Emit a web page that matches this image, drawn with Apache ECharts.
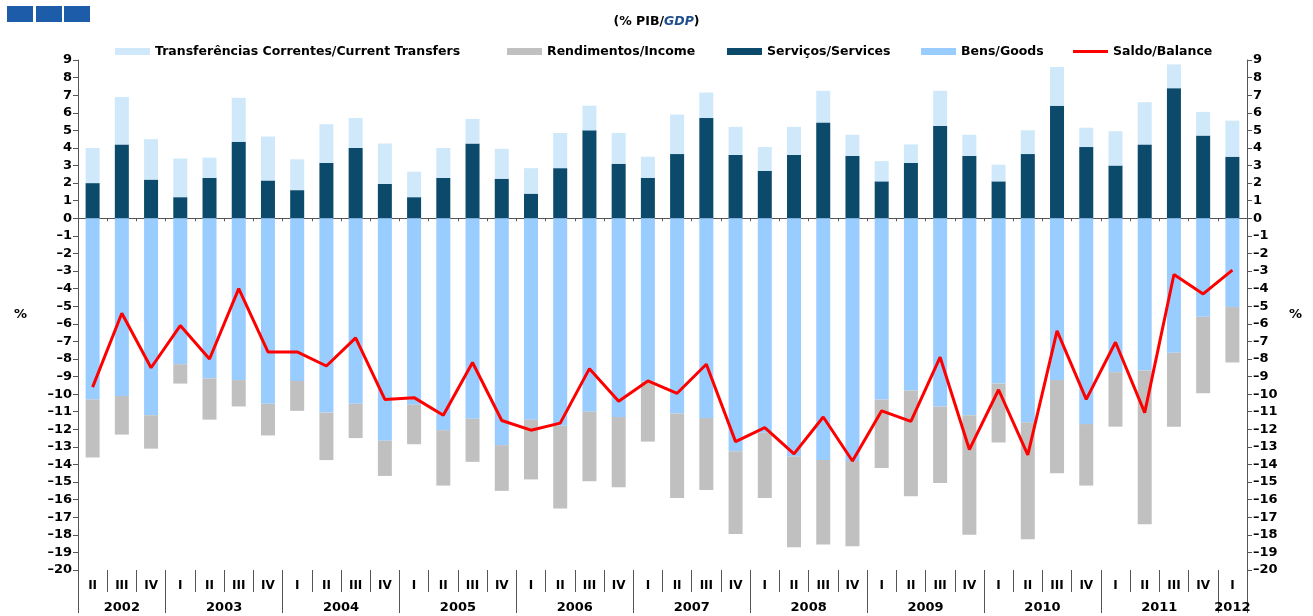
<!DOCTYPE html>
<html>
<head>
<meta charset="utf-8">
<script src="https://cdn.jsdelivr.net/npm/echarts@6/dist/echarts.min.js"></script>
<style>
  html, body { margin: 0; padding: 0; background: #fff; }
  #chart { width: 1313px; height: 616px; }
</style>
</head>
<body>
<div id="chart"></div>
<script>
// trimestres 2002 II .. 2012 I
const quarters = [
  'II', 'III', 'IV',
  'I', 'II', 'III', 'IV',
  'I', 'II', 'III', 'IV',
  'I', 'II', 'III', 'IV',
  'I', 'II', 'III', 'IV',
  'I', 'II', 'III', 'IV',
  'I', 'II', 'III', 'IV',
  'I', 'II', 'III', 'IV',
  'I', 'II', 'III', 'IV',
  'I', 'II', 'III', 'IV',
  'I'
]
const years = ['2002', '2003', '2004', '2005', '2006', '2007', '2008', '2009', '2010', '2011', '2012']
const quartersPerYear = [3, 4, 4, 4, 4, 4, 4, 4, 4, 4, 1]

const services = [2.0, 4.2, 2.2, 1.2, 2.3, 4.35, 2.15, 1.6, 3.15, 4.0, 1.95, 1.2, 2.3, 4.25, 2.25, 1.4, 2.85, 5.0, 3.1, 2.3,
  3.65, 5.7, 3.6, 2.7, 3.6, 5.45, 3.55, 2.1, 3.15, 5.25, 3.55, 2.1, 3.65, 6.4, 4.05, 3.0, 4.2, 7.4, 4.7, 3.5]
const transfers = [2.0, 2.7, 2.3, 2.2, 1.15, 2.5, 2.5, 1.75, 2.2, 1.7, 2.3, 1.45, 1.7, 1.4, 1.7, 1.45, 2.0, 1.4, 1.75, 1.2,
  2.25, 1.45, 1.6, 1.35, 1.6, 1.8, 1.2, 1.15, 1.05, 2.0, 1.2, 0.95, 1.35, 2.2, 1.1, 1.95, 2.4, 1.35, 1.35, 2.05]
const goods = [-10.3, -10.1, -11.2, -8.3, -9.1, -9.2, -10.55, -9.25, -11.05, -10.55, -12.65, -10.6, -12.05, -11.4, -12.9, -11.45, -11.8, -11.0, -11.3, -9.3,
  -11.1, -11.35, -13.25, -12.2, -13.55, -13.75, -13.8, -10.3, -9.8, -10.7, -11.2, -9.4, -11.6, -9.2, -11.7, -8.75, -8.65, -7.65, -5.6, -5.05]
const income = [-3.3, -2.2, -1.9, -1.1, -2.35, -1.5, -1.8, -1.7, -2.7, -1.95, -2.0, -2.25, -3.15, -2.45, -2.6, -3.4, -4.7, -3.95, -4.0, -3.4,
  -4.8, -4.1, -4.7, -3.7, -5.15, -4.8, -4.85, -3.9, -6.0, -4.35, -6.8, -3.35, -6.65, -5.3, -3.5, -3.1, -8.75, -4.2, -4.35, -3.15]
const balance = [-9.6, -5.4, -8.5, -6.1, -8.0, -4.0, -7.6, -7.6, -8.4, -6.8, -10.3, -10.2, -11.2, -8.2, -11.5, -12.05, -11.65, -8.55, -10.4, -9.25,
  -9.95, -8.3, -12.7, -11.9, -13.4, -11.3, -13.8, -10.95, -11.55, -7.9, -13.15, -9.75, -13.45, -6.4, -10.3, -7.05, -11.05, -3.2, -4.3, -2.95]

const names = ['Transferências Correntes/Current Transfers', 'Rendimentos/Income', 'Serviços/Services', 'Bens/Goods', 'Saldo/Balance']
const legendLeft = [110, 502, 722, 916, 1068]

// eixo dos anos: meias posições (0..80), etiqueta no centro de cada ano
const yearSlots = new Array(81).fill('')
const yearBounds = [0]
let pos = 0
years.forEach((y, i) => {
  yearSlots[2 * pos + quartersPerYear[i]] = y
  pos += quartersPerYear[i]
  yearBounds.push(2 * pos)
})

const font = "'DejaVu Sans', 'Liberation Sans', Arial, sans-serif"
const axisColor = '#555'
const boldText = { color: '#000', fontFamily: font, fontWeight: 'bold', fontSize: 13 }

const chart = echarts.init(document.getElementById('chart'))

const yAxisBase = {
  type: 'value',
  min: -20,
  max: 9,
  interval: 1,
  splitLine: { show: false },
  axisLine: { show: true, lineStyle: { color: axisColor } },
  axisTick: { show: true, length: 5, lineStyle: { color: axisColor } },
  axisLabel: Object.assign({}, boldText, {
    margin: 6,
    formatter: (v) => String(v).replace('-', '\u2013')
  }),
  name: '%',
  nameLocation: 'middle',
  nameRotate: 0
}

// uma legenda por item, para acertar as posições
const legends = names.map((n, i) => ({
  data: [{ name: n, icon: 'rect' }],
  top: 40,
  left: legendLeft[i],
  itemWidth: 35,
  itemHeight: i === 4 ? 3 : 7,
  textStyle: Object.assign({}, boldText, { fontSize: 12.5 })
}))

const option = {
  animation: false,
  textStyle: { fontFamily: font },
  title: {
    text: '{a|(% PIB/}{b|GDP}{a|)}',
    left: 'center',
    top: 10,
    textStyle: {
      rich: {
        a: { fontFamily: font, fontWeight: 'bold', fontSize: 12.5, color: '#000' },
        b: { fontFamily: font, fontWeight: 'bold', fontStyle: 'italic', fontSize: 12.5, color: '#1f4e8c' }
      }
    }
  },
  graphic: [
    { type: 'rect', left: 7, top: 6, shape: { width: 26, height: 16 }, style: { fill: '#1c5ca8' } },
    { type: 'rect', left: 36, top: 6, shape: { width: 26, height: 16 }, style: { fill: '#1c5ca8' } },
    { type: 'rect', left: 64, top: 6, shape: { width: 26, height: 16 }, style: { fill: '#1c5ca8' } }
  ],
  legend: legends,
  grid: { left: 78, right: 66, top: 60, bottom: 46, containLabel: false },
  xAxis: [
    {
      type: 'category',
      data: quarters,
      position: 'bottom',
      axisLine: { show: false, onZero: false },
      axisTick: { show: true, interval: 0, length: 22, lineStyle: { color: axisColor } },
      axisLabel: Object.assign({}, boldText, { interval: 0, fontSize: 12, margin: 10 })
    },
    {
      type: 'category',
      data: yearSlots,
      boundaryGap: false,
      position: 'bottom',
      axisLine: { show: false, onZero: false },
      axisTick: { show: true, length: 43, interval: (i) => yearBounds.includes(i), lineStyle: { color: axisColor } },
      axisLabel: Object.assign({}, boldText, { interval: 0, margin: 31 })
    },
    {
      type: 'category',
      data: quarters,
      position: 'bottom',
      axisLine: { show: true, onZero: true, lineStyle: { color: axisColor } },
      axisTick: { show: true, interval: 0, length: 3, lineStyle: { color: axisColor } },
      axisLabel: { show: false }
    }
  ],
  yAxis: [
    Object.assign({}, yAxisBase, {
      position: 'left',
      nameGap: 51,
      nameTextStyle: Object.assign({}, boldText, { padding: [0, 0, 20, 0] })
    }),
    Object.assign({}, yAxisBase, {
      position: 'right',
      nameGap: 42,
      nameTextStyle: Object.assign({}, boldText, { padding: [0, 0, 6, 0] })
    })
  ],
  series: [
    { name: names[2], type: 'bar', stack: 'ca', data: services, barWidth: 14, itemStyle: { color: '#0b4a6b' } },
    { name: names[3], type: 'bar', stack: 'ca', data: goods, barWidth: 14, itemStyle: { color: '#99ccff' } },
    { name: names[0], type: 'bar', stack: 'ca', data: transfers, barWidth: 14, itemStyle: { color: '#cfe9fb' } },
    { name: names[1], type: 'bar', stack: 'ca', data: income, barWidth: 14, itemStyle: { color: '#c0c0c0' } },
    {
      name: names[4],
      type: 'line',
      data: balance,
      symbol: 'none',
      z: 5,
      lineStyle: { color: '#ff0000', width: 3 },
      itemStyle: { color: '#ff0000' }
    }
  ]
}

chart.setOption(option)
</script>
</body>
</html>
